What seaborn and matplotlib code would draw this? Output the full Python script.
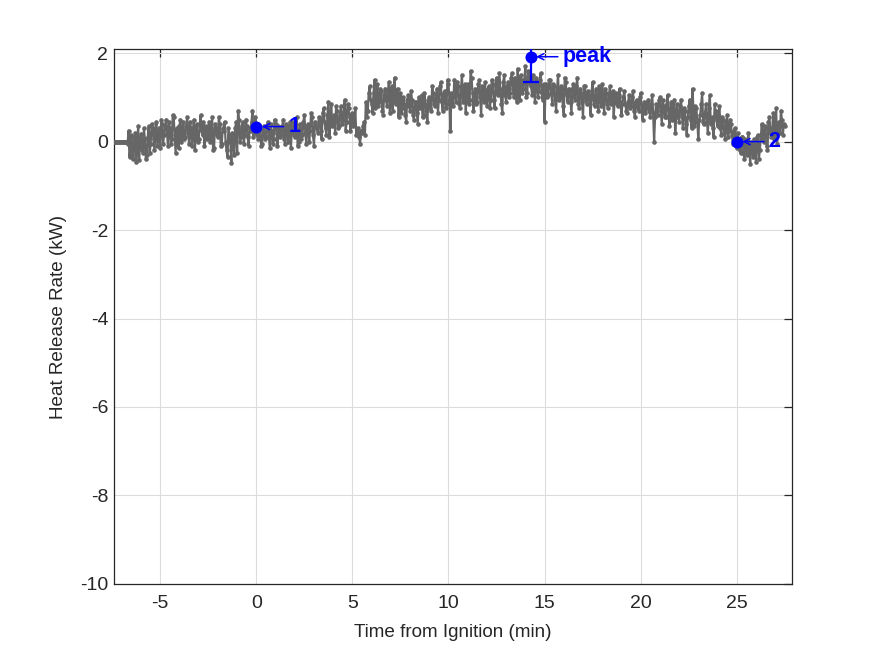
import numpy as np
import pandas as pd
import matplotlib
matplotlib.use("Agg")
import matplotlib.pyplot as plt
import seaborn as sns

# ---------------- data ----------------
t_start = -7.4          # min, first sample of the "A" samples
t_step = 0.1            # min, interval within each sample set
# samples at t_start + k*t_step
hrr_a = [
    0, 0, 0, 0, 0, 0, 0,
    -0.05, -0.35, 0.15, -0.40, 0.20, -0.10, -0.42, 0.18, -0.25, 0.05,
    -0.30, 0.35, -0.05, 0.30, -0.20, 0.45, 0.10, -0.15, 0.40, 0.15,
    0.50, -0.10, 0.30, 0.05, 0.55, -0.25, 0.20, 0.35, 0.00, 0.45,
    0.10, 0.55, -0.05, 0.30, 0.25, -0.20, 0.40, 0.05, 0.60, 0.15,
    -0.10, 0.35, 0.20, 0.00, 0.55, -0.15, 0.30, 0.10, 0.40, -0.05,
    0.25, 0.00, -0.35, 0.15, -0.48, 0.05, 0.30, -0.25, 0.50, 0.10,
    0.45, 0.15, 0.35, -0.10, 0.25, 0.70, 0.20, 0.40, 0.05, 0.30,
    -0.05, 0.35, 0.10, 0.45, -0.15, 0.25, 0.05, 0.40, -0.10, 0.30,
    0.15, 0.50, -0.05, 0.35, 0.20, -0.15, 0.45, 0.10, 0.55, 0.00,
    0.30, 0.15, 0.60, -0.05, 0.40, 0.25, 0.55, -0.10, 0.35, 0.20,
    0.50, 0.05, 0.75, 0.30, 0.60, 0.10, 0.85, 0.40, 0.20, 0.70,
    0.35, 0.80, 0.50, 0.95, 0.45, 0.75, 0.25, 0.65, 0.40, 0.15,
    0.30, -0.05, 0.20, 0.45, 0.90, 0.70, 1.25, 0.85, 1.10, 0.75,
    1.30, 0.90, 1.15, 0.60, 1.20, 0.80, 1.35, 1.00, 0.70, 1.45,
    0.95, 0.55, 1.10, 0.75, 0.85, 0.45, 1.05, 0.70, 0.95, 0.50,
    0.90, 0.40, 0.75, 1.05, 0.60, 0.85, 0.45, 1.00, 0.70, 1.10,
    0.80, 1.20, 0.95, 1.35, 0.70, 1.15, 0.85, 1.30, 0.25, 1.05,
    1.40, 0.90, 1.25, 0.75, 1.50, 1.00, 0.65, 1.30, 0.95, 1.45,
    0.70, 1.20, 0.90, 1.40, 0.60, 1.15, 1.35, 0.80, 1.25, 0.95,
    1.30, 0.75, 1.45, 1.05, 1.20, 0.65, 1.50, 0.90, 1.35, 1.10,
    1.55, 1.00, 1.30, 1.65, 0.95, 1.40, 1.20, 1.70, 1.10, 1.45,
    1.25, 1.50, 0.90, 1.35, 1.15, 1.55, 0.95, 0.45, 1.30, 1.05,
    1.40, 0.85, 1.25, 0.70, 1.50, 1.00, 1.20, 0.60, 1.35, 0.90,
    1.15, 0.65, 1.30, 0.95, 1.45, 0.75, 1.10, 0.55, 1.25, 0.85,
    1.05, 0.60, 1.35, 0.80, 1.20, 0.70, 1.00, 1.30, 0.65, 1.10,
    0.75, 1.25, 0.90, 0.55, 1.10, 0.80, 1.20, 0.60, 1.00, 0.85,
    0.65, 1.05, 0.80, 1.15, 0.55, 0.95, 0.70, 1.10, 0.50, 0.90,
    0.75, 0.95, 0.55, 1.05, 0.00, 0.85, 0.60, 1.00, 0.40, 0.80,
    0.55, 1.05, 0.35, 0.90, 0.65, 0.20, 0.85, 0.45, 0.95, 0.30,
    0.70, 0.15, 0.80, 0.50, 1.20, 0.35, 0.75, 0.05, 0.60, 1.10,
    0.40, 0.85, 0.20, 1.05, 0.55, 0.10, 0.70, 0.35, 0.80, 0.15,
    0.50, 0.05, 0.60, 0.25, 0.40, -0.05, 0.30, -0.15, 0.05, -0.25,
    0.10, -0.40, -0.05, 0.20, -0.50, -0.15, 0.05, -0.45, 0.15, -0.20,
    0.40, 0.00, 0.30, -0.20, 0.55, 0.10, 0.65, 0.25, -0.05, 0.45,
    0.70, 0.15, 0.35,
]
# samples half an interval later, at t_start + t_step/2 + k*t_step
hrr_b = [
    0, 0, 0, 0, 0, 0, 0,
    0.25, -0.15, -0.30, 0.10, -0.45, 0.35, 0.00, -0.20, 0.30, -0.40,
    0.10, -0.25, 0.40, 0.05, 0.25, -0.10, 0.30, 0.50, -0.05, 0.35,
    0.20, 0.45, -0.05, 0.60, 0.15, 0.30, -0.15, 0.50, 0.25, 0.05,
    0.35, 0.20, 0.45, -0.10, 0.50, 0.15, 0.00, 0.35, 0.25, 0.45,
    0.25, 0.05, 0.45, 0.30, -0.20, 0.40, 0.15, 0.55, -0.10, 0.30,
    0.45, -0.20, 0.30, 0.00, 0.20, -0.30, 0.45, 0.70, 0.00, 0.35,
    -0.05, 0.50, 0.10, 0.30, 0.45, 0.10, 0.55, 0.15, 0.35, -0.10,
    0.25, 0.05, 0.30, 0.15, 0.40, -0.05, 0.50, 0.20, 0.35, 0.10,
    0.35, 0.05, 0.40, 0.00, 0.45, 0.30, 0.15, 0.25, -0.10, 0.40,
    0.05, 0.45, 0.20, 0.35, 0.00, 0.65, 0.15, 0.45, 0.30, 0.55,
    0.25, 0.65, 0.45, 0.15, 0.90, 0.55, 0.35, 0.60, 0.80, 0.30,
    0.60, 0.40, 0.70, 0.25, 0.85, 0.55, 0.60, 0.35, 0.75, 0.20,
    0.10, 0.25, 0.35, 0.15, 0.55, 1.10, 0.95, 0.65, 1.40, 1.00,
    0.80, 1.20, 0.70, 1.05, 0.95, 1.15, 0.65, 1.25, 1.10, 0.85,
    1.20, 0.80, 0.65, 1.00, 0.60, 0.95, 0.80, 1.15, 0.60, 0.90,
    0.65, 1.00, 0.95, 0.55, 1.10, 0.70, 0.95, 0.75, 1.25, 0.85,
    1.05, 0.65, 1.25, 0.90, 1.10, 0.75, 1.40, 0.95, 1.10, 0.80,
    1.10, 1.35, 0.85, 1.20, 0.90, 1.30, 1.15, 0.85, 1.60, 1.10,
    1.05, 0.85, 1.30, 1.00, 1.25, 0.90, 1.00, 1.20, 0.75, 1.40,
    0.95, 1.25, 1.10, 1.55, 0.85, 1.35, 1.05, 1.25, 1.00, 1.45,
    1.20, 1.45, 0.90, 1.25, 1.50, 1.10, 1.40, 1.00, 1.60, 1.30,
    1.05, 1.20, 1.45, 1.00, 1.40, 1.10, 1.30, 1.20, 1.00, 1.40,
    1.10, 1.30, 0.95, 1.20, 0.95, 1.25, 0.80, 1.45, 1.05, 1.20,
    0.90, 1.20, 1.00, 1.25, 0.85, 1.20, 0.90, 1.25, 0.95, 1.15,
    0.85, 1.15, 0.95, 1.05, 0.90, 1.25, 0.80, 0.95, 1.20, 0.85,
    1.05, 0.85, 1.15, 1.00, 0.85, 1.05, 0.90, 0.85, 1.15, 0.70,
    0.90, 0.75, 1.00, 0.70, 0.90, 0.75, 1.00, 0.70, 0.85, 0.65,
    0.90, 0.70, 0.85, 0.65, 0.55, 0.70, 0.95, 0.70, 0.95, 0.55,
    0.85, 0.60, 0.75, 0.50, 0.95, 0.60, 0.55, 0.80, 0.60, 0.75,
    0.40, 0.55, 0.95, 0.30, 0.65, 0.80, 0.45, 0.50, 0.85, 0.45,
    0.65, 0.45, 0.75, 0.40, 0.30, 0.85, 0.50, 0.60, 0.30, 0.55,
    0.20, 0.45, 0.10, 0.50, 0.15, 0.25, -0.10, 0.20, -0.20, 0.10,
    -0.25, 0.05, -0.30, -0.10, 0.00, -0.35, -0.20, 0.10, -0.40, 0.05,
    0.15, 0.35, -0.10, 0.45, 0.20, 0.30, 0.05, 0.75, 0.40, 0.20,
    0.50, 0.40,
]

event_labels = ["1", "peak", "2"]
event_t = [0.0, 14.27, 25.0]
event_hrr = [0.34, 1.92, 0.0]
peak_err = 0.57

x_ticks = [-5, 0, 5, 10, 15, 20, 25]
y_ticks = [-10, -8, -6, -4, -2, 0, 2]
x_label = "Time from Ignition (min)"
y_label = "Heat Release Rate (kW)"

# ---------------- plot ----------------
t_a = t_start + t_step * np.arange(len(hrr_a))
t_b = t_start + t_step / 2 + t_step * np.arange(len(hrr_b))
df = pd.DataFrame({"t": np.concatenate([t_a, t_b]),
                   "hrr": np.concatenate([hrr_a, hrr_b])}).sort_values("t")

sns.set_theme(style="white")
plt.rcParams["font.family"] = ["Liberation Sans", "DejaVu Sans"]
plt.rcParams["axes.unicode_minus"] = False

fig = plt.figure(figsize=(8.75, 6.56), dpi=100)
ax = fig.add_axes([0.13, 0.11, 0.775, 0.815])

sns.lineplot(data=df, x="t", y="hrr", ax=ax, color="#666666", linewidth=1.6,
             marker="o", markersize=3.3, markeredgewidth=0,
             markerfacecolor="#666666", sort=False, zorder=3)

ax.errorbar([event_t[1]], [event_hrr[1]], yerr=peak_err, fmt="none",
            ecolor="blue", elinewidth=1.6, capsize=6, capthick=1.6, zorder=4)
sns.scatterplot(x=event_t, y=event_hrr, ax=ax, color="blue", s=75,
                edgecolor="blue", linewidth=0, zorder=5)

for lab, xe, ye in zip(event_labels, event_t, event_hrr):
    ax.annotate(lab, (xe, ye), xytext=(32, 0), textcoords="offset pixels",
                ha="left", va="center", color="blue", fontsize=15.5,
                fontweight="bold", zorder=6,
                arrowprops=dict(arrowstyle="->", color="blue", lw=1.1,
                                shrinkA=1, shrinkB=4, mutation_scale=11))

ax.set_xlim(-7.42, 27.87)
ax.set_ylim(-10, 2.09)
ax.set_xticks(x_ticks)
ax.set_yticks(y_ticks)
ax.grid(True, color="#dcdcdc", linewidth=0.8)
ax.set_axisbelow(True)
for s in ax.spines.values():
    s.set_color("#262626")
    s.set_linewidth(0.9)
ax.tick_params(direction="in", length=6, width=0.9, color="#262626",
               top=True, right=True, labelsize=14, labelcolor="#262626")
ax.tick_params(axis="x", pad=8)
ax.tick_params(axis="y", pad=4)
ax.set_xlabel(x_label, fontsize=13.6, color="#262626", labelpad=9)
ax.set_ylabel(y_label, fontsize=13.6, color="#262626", labelpad=9)

fig.savefig("out.png", dpi=100)
